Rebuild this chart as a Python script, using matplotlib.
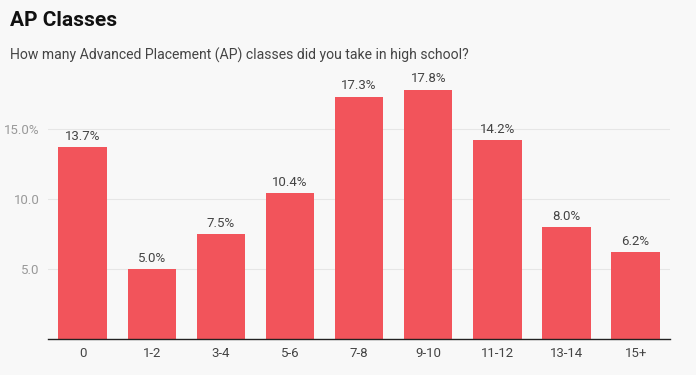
import matplotlib.pyplot as plt

categories = ["0", "1-2", "3-4", "5-6", "7-8", "9-10", "11-12", "13-14", "15+"]
values = [13.7, 5.0, 7.5, 10.4, 17.3, 17.8, 14.2, 8.0, 6.2]
yticks = [5, 10, 15]
ytick_labels = ["5.0", "10.0", "15.0%"]

plt.rcParams["font.family"] = ["Roboto", "DejaVu Sans"]

fig = plt.figure(figsize=(6.96, 3.75), dpi=100, facecolor="#f8f8f8")
ax = fig.add_axes([0.069, 0.096, 0.894, 0.71])
ax.set_facecolor("#f8f8f8")

x = range(len(categories))
bars = ax.bar(x, values, width=0.7, color="#f2545b", zorder=2)
for b, v in zip(bars, values):
    ax.text(b.get_x() + b.get_width() / 2, v + 0.3, f"{v:.1f}%",
            ha="center", va="bottom", fontsize=9.5, color="#444444")

ax.set_xlim(-0.5, len(categories) - 0.5)
ax.set_ylim(0, 19)
ax.set_xticks(list(x))
ax.set_xticklabels(categories, fontsize=9.5, color="#444444")
ax.set_yticks(yticks)
ax.set_yticklabels(ytick_labels, fontsize=9.5, color="#999999")
ax.tick_params(length=0, pad=6)
ax.grid(axis="y", color="#e6e6e6", linewidth=0.8, zorder=0)
for s in ["top", "right", "left"]:
    ax.spines[s].set_visible(False)
ax.spines["bottom"].set_color("#222222")
ax.spines["bottom"].set_linewidth(1)

fig.text(0.014, 0.945, "AP Classes", fontsize=15, fontweight="bold",
         color="#111111", va="center")
fig.text(0.014, 0.853, "How many Advanced Placement (AP) classes did you take in high school?",
         fontsize=10.1, color="#444444", va="center")

fig.savefig("out.png", dpi=100, facecolor=fig.get_facecolor())
